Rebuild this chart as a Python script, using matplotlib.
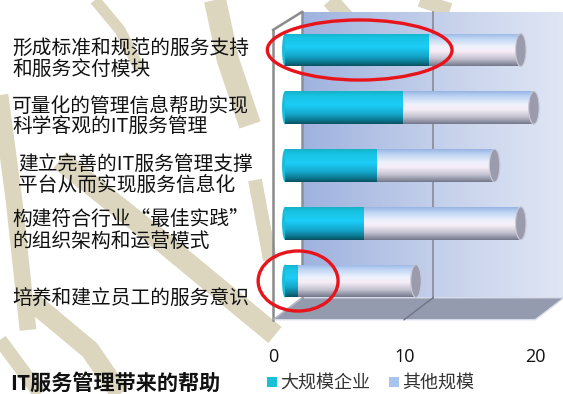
import numpy as np
import matplotlib
matplotlib.use("Agg")
import matplotlib.pyplot as plt
from matplotlib.patches import Ellipse, Polygon, Rectangle
from matplotlib.colors import LinearSegmentedColormap
from matplotlib.lines import Line2D
from matplotlib.transforms import ScaledTranslation

plt.rcParams['font.family'] = ['Noto Sans CJK SC', 'DejaVu Sans']

# ---------------- data ----------------
categories = [
    "形成标准和规范的服务支持\n和服务交付模块",
    "可量化的管理信息帮助实现\n科学客观的IT服务管理",
    "建立完善的IT服务管理支撑\n平台从而实现服务信息化",
    "构建符合行业“最佳实践”\n的组织架构和运营模式",
    "培养和建立员工的服务意识",
]
large_enterprise = [11, 9, 7, 6, 1]
other_scale = [7, 10, 9, 12, 9]
series_names = ["大规模企业", "其他规模"]
xticks = [0, 10, 20]
title = "IT服务管理带来的帮助"

# ---------------- figure ----------------
W, H = 563, 394
fig = plt.figure(figsize=(W / 100, H / 100), dpi=100)
fig.patch.set_facecolor("white")

# decorative beige watermark (figure pixel coordinates)
beige = "#dcd6bf"
def fpx(xs, ys):
    return [x / W for x in xs], [1 - y / H for y in ys]
strokes = [
    ([215, 228, 250], [0, 60, 125], 16),
    ([60, 160, 275], [160, 240, 335], 15),
    ([0, 14, 28], [95, 200, 330], 12),
    ([30, 90, 120], [300, 350, 394], 14),
    ([0, 40], [340, 394], 10),
    ([330, 350], [0, 22], 12),
    ([420, 450], [0, 10], 10),
    ([95, 120, 140], [0, 30, 70], 8),
    ([255, 270], [180, 260], 10),
]
for xs, ys, lw in strokes:
    fx, fy = fpx(xs, ys)
    fig.add_artist(Line2D(fx, fy, color=beige, lw=lw, solid_capstyle="butt", zorder=0))

# axes
x0px, zero_px, ppu_x = 255, 285, 13.1
top_px, bottom_px, ppu_y = 0, 330, 57.75
ax = fig.add_axes([x0px / W, 1 - bottom_px / H, 1 - x0px / W, (bottom_px - top_px) / H])
ax.set_zorder(1)
ax.patch.set_alpha(0)
xlim = ((x0px - zero_px) / ppu_x, (W - zero_px) / ppu_x)
ylim = (-(bottom_px - 281) / ppu_y, 4 + (50 - top_px) / ppu_y)

# 3D frame geometry (depth offsets in data units)
front_dx, back_dx = -0.9, 1.3
floor_front, floor_back = -0.67, -0.29
wall_top = 4.66
xmax = xticks[-1]

# back wall gradient
wall_cmap = LinearSegmentedColormap.from_list("wall", ["#9fb2df", "#c3cfea", "#e0e6f4"])
grad = np.linspace(0, 1, 256)[None, :]
ax.imshow(grad, cmap=wall_cmap, extent=(back_dx, xmax + back_dx, floor_back, wall_top),
          aspect="auto", zorder=1)
# floor
floor = Polygon([(front_dx, floor_front), (xmax + front_dx, floor_front),
                 (xmax + back_dx, floor_back), (back_dx, floor_back)],
                closed=True, facecolor="#959bae", edgecolor="#d8dcea", lw=1.0, zorder=1.5)
ax.add_patch(floor)
# grid line at 10 (back wall + floor)
for v in xticks[1:-1]:
    ax.plot([v + back_dx, v + back_dx], [floor_back, wall_top], color="#8b8f9a", lw=1.3, zorder=2)
    ax.plot([v + front_dx, v + back_dx], [floor_front, floor_back], color="#6f7486", lw=1.0, zorder=2)
# back wall left edge & left wall outline
ax.plot([back_dx, back_dx], [floor_back, wall_top], color="#8a8f9c", lw=1.8, zorder=2)
ax.plot([front_dx, front_dx], [floor_front, 4.35], color="#8a8a8a", lw=1.8, zorder=2)
ax.plot([front_dx, back_dx], [4.35, wall_top], color="#8a8a8a", lw=1.8, zorder=2)
ax.plot([front_dx, back_dx], [floor_front, floor_back], color="#b0b4c2", lw=1.0, zorder=2)

# bars
cyan_cmap = LinearSegmentedColormap.from_list(
    "cy", [(0, "#14b2c8"), (0.15, "#18c4e4"), (0.42, "#1ccdf8"), (0.7, "#14a7ca"),
           (0.88, "#0c7890"), (1.0, "#08505f")])
other_cmap = LinearSegmentedColormap.from_list(
    "ot", [(0, "#95b3e3"), (0.15, "#bcd3f3"), (0.4, "#eef1fc"), (0.55, "#f7eef8"),
           (0.78, "#c3c2d0"), (1.0, "#72778a")])
vgrad = np.linspace(0, 1, 256)[:, None]

y = np.arange(len(categories))[::-1]
bh = 0.57
bars1 = ax.barh(y, large_enterprise, height=bh, color="none", zorder=3)
bars2 = ax.barh(y, other_scale, left=large_enterprise, height=bh, color="none", zorder=3)
for bars, cmap in ((bars1, cyan_cmap), (bars2, other_cmap)):
    for r in bars:
        x, yb, w, h = r.get_x(), r.get_y(), r.get_width(), r.get_height()
        im = ax.imshow(vgrad, cmap=cmap, extent=(x, x + w, yb, yb + h), aspect="auto",
                       origin="upper", zorder=3)
        im.set_clip_path(r)
# end caps
for yi, a, b in zip(y, large_enterprise, other_scale):
    ax.add_patch(Ellipse((0, yi), 0.45, bh, facecolor="#19bcd9", edgecolor="none", zorder=2.9))
    ax.add_patch(Ellipse((a + b, yi), 0.8, bh, facecolor="#9a9cad", edgecolor="#c9cad6",
                         lw=0.8, zorder=3.5))

# red annotation ellipses
ax.add_patch(Ellipse((5.7, 4), 14.1, 1.04, facecolor="none", edgecolor="#e8141b", lw=2.4,
                     zorder=5, clip_on=False))
ax.add_patch(Ellipse((1.0, 0), 6.1, 1.04, facecolor="none", edgecolor="#e8141b", lw=2.4,
                     zorder=5, clip_on=False))

ax.set_xlim(*xlim)
ax.set_ylim(*ylim)
for s in ax.spines.values():
    s.set_visible(False)
ax.set_yticks([])
ax.set_xticks(xticks)
ax.set_xticklabels([str(t) for t in xticks], fontsize=13, family=["Open Sans", "DejaVu Sans"],
                   color="#111111")
ax.tick_params(axis="x", length=0, pad=13)
# tick labels sit under the front edge of the 3D floor
off = ScaledTranslation(front_dx * ppu_x / 100, 0, fig.dpi_scale_trans)
for lab in ax.get_xticklabels():
    lab.set_transform(lab.get_transform() + off)

# category labels (left text)
label_pos = [(12, 59), (12, 117), (18, 175), (12, 231), (12, 299)]
for txt, (lx, ly) in zip(categories, label_pos):
    fig.text(lx / W, 1 - ly / H, txt, ha="left", va="center", fontsize=14.2,
             linespacing=1.03, color="#111111")

# title
fig.text(10 / W, 1 - 383 / H, title, ha="left", va="center", fontsize=15.2,
         fontweight="bold", color="#111111")

# legend (manual)
leg_items = [(267, "#19bfd6"), (389, "#a8c5f0")]
for (sx, col), name in zip(leg_items, series_names):
    fig.add_artist(Rectangle((sx / W, 1 - 387 / H), 10 / W, 10 / H, transform=fig.transFigure,
                             facecolor=col, edgecolor="none"))
    fig.text((sx + 13) / W, 1 - 383 / H, name, ha="left", va="center", fontsize=13,
             color="#333333")

fig.savefig("out.png", dpi=100)
